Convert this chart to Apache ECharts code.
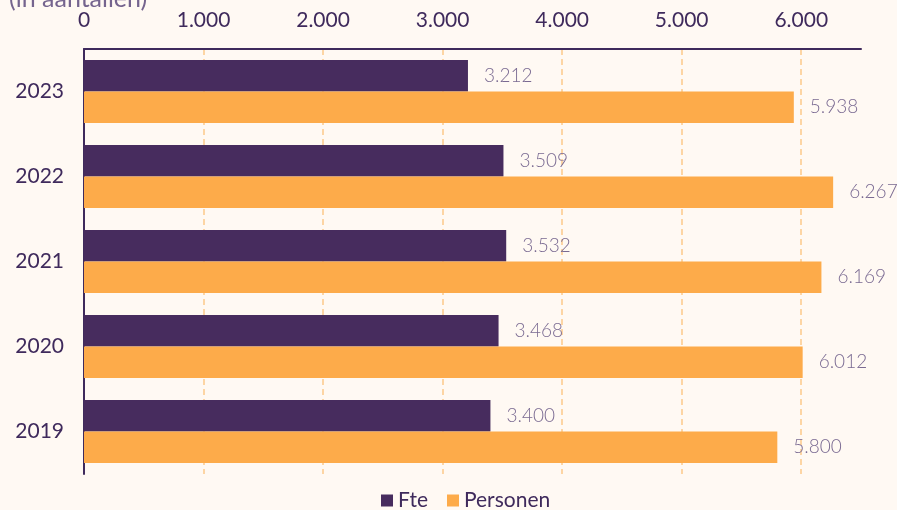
<!DOCTYPE html>
<html>
<head>
<meta charset="utf-8">
<script src="https://cdn.jsdelivr.net/npm/echarts@6/dist/echarts.min.js"></script>
<style>
  html, body { margin: 0; padding: 0; background: #fff9f3; }
  #chart { width: 897px; height: 510px; }
</style>
</head>
<body>
<div id="chart"></div>
<script>
  // jaren, van boven naar beneden
  var years = ['2023', '2022', '2021', '2020', '2019'];
  var fte = [3212, 3509, 3532, 3468, 3400];
  var personen = [5938, 6267, 6169, 6012, 5800];
  var seriesNames = ['Fte', 'Personen'];

  var purple = '#472c5e';
  var orange = '#fdab4a';
  var textColor = '#3f2a5c';

  // 1234 -> 1.234
  function nl(v) {
    return String(v).replace(/\B(?=(\d{3})+(?!\d))/g, '.');
  }

  var chart = echarts.init(document.getElementById('chart'));

  chart.setOption({
    backgroundColor: '#fff9f3',
    textStyle: { fontFamily: 'Lato' },
    title: {
      text: '(in aantallen)',
      left: 4,
      top: -19,
      textStyle: { fontFamily: 'Lato', fontSize: 25, fontWeight: 'normal', color: '#75648e' }
    },
    legend: {
      data: seriesNames,
      bottom: -6,
      left: 376,
      itemWidth: 12,
      itemHeight: 12,
      itemGap: 19,
      icon: 'rect',
      textStyle: { fontSize: 21, color: textColor }
    },
    grid: { left: 84, right: 36, top: 49, bottom: 36 },
    xAxis: {
      type: 'value',
      position: 'top',
      min: 0,
      max: 6500,
      interval: 1000,
      axisLine: { show: true, lineStyle: { color: textColor, width: 2 } },
      axisTick: { show: false },
      axisLabel: {
        showMaxLabel: false,
        fontSize: 21,
        color: textColor,
        margin: 18,
        formatter: function (v) { return nl(v); }
      },
      splitLine: {
        show: true,
        showMinLine: false,
        showMaxLine: false,
        lineStyle: { type: [6, 4], color: '#fdc98a', width: 1.5 }
      }
    },
    yAxis: {
      type: 'category',
      data: years,
      inverse: true,
      axisLine: { show: true, lineStyle: { color: textColor, width: 2 } },
      axisTick: { show: false },
      axisLabel: { fontSize: 21, color: textColor, margin: 20 }
    },
    series: [
      {
        name: seriesNames[0],
        type: 'bar',
        data: fte,
        barGap: '0%',
        barCategoryGap: '26%',
        itemStyle: { color: purple },
        label: {
          show: true,
          position: 'right',
          distance: 16,
          fontSize: 19,
          fontWeight: 300,
          color: '#7a6a92',
          formatter: function (p) { return nl(p.value); }
        }
      },
      {
        name: seriesNames[1],
        type: 'bar',
        data: personen,
        barGap: '0%',
        barCategoryGap: '26%',
        itemStyle: { color: orange },
        label: {
          show: true,
          position: 'right',
          distance: 16,
          fontSize: 19,
          fontWeight: 300,
          color: '#7a6a92',
          formatter: function (p) { return nl(p.value); }
        }
      }
    ]
  });
</script>
</body>
</html>
